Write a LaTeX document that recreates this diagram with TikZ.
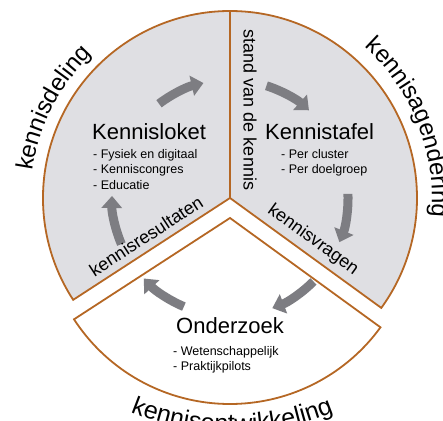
\documentclass[tikz,border=0pt]{standalone}
\usepackage{fontspec}
\setmainfont{Liberation Sans}
\usetikzlibrary{arrows.meta,decorations.text}
\definecolor{rim}{RGB}{181,103,36}
\definecolor{vlak}{RGB}{223,223,227}
\definecolor{pijlgrijs}{RGB}{125,125,130}
\newcommand{\kop}{\fontsize{22}{26}\selectfont}
\newcommand{\lijst}{\fontsize{12.5}{15.5}\selectfont}
\newcommand{\randtekst}{\fontsize{18}{21}\selectfont}
\newcommand{\buiten}{\fontsize{24}{28}\selectfont}
\newcommand{\onder}{\fontsize{25}{29}\selectfont}

\begin{document}
\begin{tikzpicture}[x=1pt,y=1pt,
        sector/.style={draw=rim,line width=1.8pt},
        cyclus/.style={draw=pijlgrijs,line width=9pt,-{Triangle[width=20pt,length=12pt]}},
        titel/.style={font=\kop,inner sep=0pt},
        sub/.style={font=\lijst,inner sep=0pt,align=left},
        grens/.style={font=\randtekst,inner sep=0pt}]
        \useasboundingbox (0,0) rectangle (443,420);
        \coordinate (c1) at (230,222);
        \coordinate (c2) at (230,202);
        \coordinate (c3) at (232,256);
        \filldraw[sector,fill=vlak] (c1) -- ([shift={(213:187pt)}]c1) arc[start angle=213,end angle=90,radius=187pt] -- cycle;
        \filldraw[sector,fill=vlak] (c1) -- ([shift={(90:187pt)}]c1) arc[start angle=90,end angle=-36,radius=187pt] -- cycle;
        \filldraw[sector,fill=white] (c2) -- ([shift={(213:186pt)}]c2) arc[start angle=213,end angle=324,radius=186pt] -- cycle;
        \draw[cyclus] ([shift={(127:118pt)}]c1) arc[start angle=127,end angle=103,radius=118pt];
        \draw[cyclus] ([shift={(72:118pt)}]c1) arc[start angle=72,end angle=48,radius=118pt];
        \draw[cyclus] ([shift={(2:118pt)}]c1) arc[start angle=2,end angle=-22,radius=118pt];
        \draw[cyclus] ([shift={(-45:118pt)}]c1) arc[start angle=-45,end angle=-69,radius=118pt];
        \draw[cyclus] ([shift={(247:118pt)}]c1) arc[start angle=247,end angle=223,radius=118pt];
        \draw[cyclus] ([shift={(203:118pt)}]c1) arc[start angle=203,end angle=179,radius=118pt];
        \node[titel,anchor=base west] (loket) at (92,280) {Kennisloket};
        \node[sub,anchor=north west] (loketlijst) at (93,271) {- Fysiek en digitaal\\- Kenniscongres\\- Educatie};
        \node[titel,anchor=base west] (tafel) at (265,280) {Kennistafel};
        \node[sub,anchor=north west] (tafellijst) at (281,271) {- Per cluster\\- Per doelgroep};
        \node[titel,anchor=base west] (onderzoek) at (176,87) {Onderzoek};
        \node[sub,anchor=north west] (onderzoeklijst) at (173,74) {- Wetenschappelijk\\- Praktijkpilots};
        \node[grens,rotate=-90] (stand) at (250,310) {stand van de kennis};
        \node[grens,rotate=33] (resultaten) at (146,184) {kennisresultaten};
        \node[grens,rotate=-36] (vragen) at (313,180) {kennisvragen};
        \path[decorate,decoration={text along path,text align=center,text={|\buiten|kennisdeling}}]
                ([shift={(198:199pt)}]c1) arc[start angle=198,end angle=108,radius=199pt];
        \path[decorate,decoration={text along path,text align=center,text={|\buiten|kennisagendering}}]
                ([shift={(71:202pt)}]c1) arc[start angle=71,end angle=-28,radius=202pt];
        \path[decorate,decoration={text along path,text align=center,text={|\onder|kennisontwikkeling}}]
                ([shift={(225:268pt)}]c3) arc[start angle=225,end angle=315,radius=268pt];
\end{tikzpicture}
\end{document}
